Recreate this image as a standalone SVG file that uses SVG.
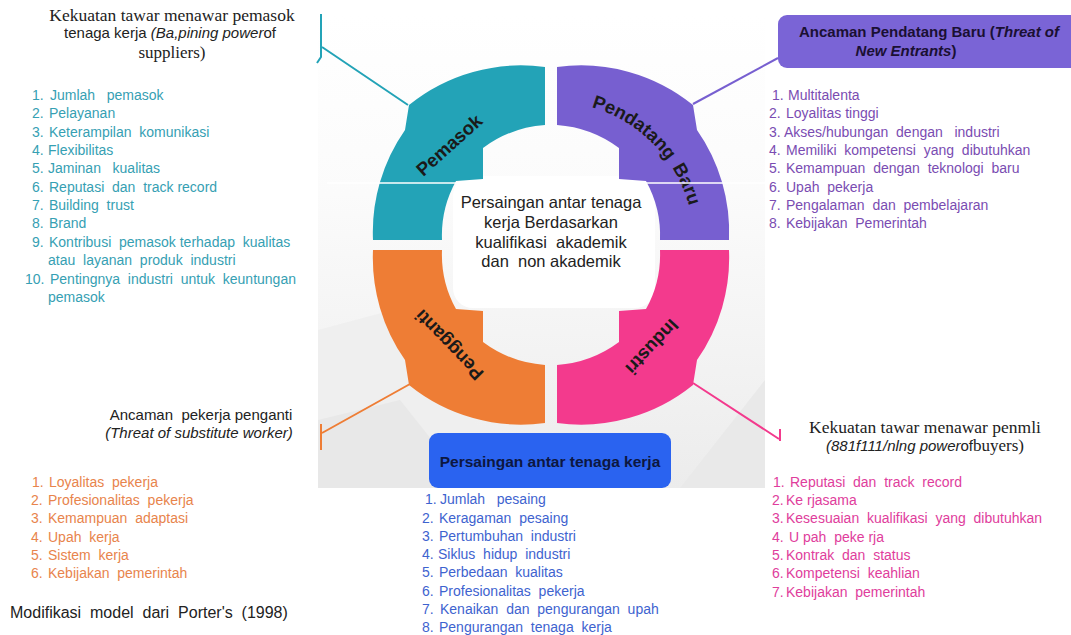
<svg xmlns="http://www.w3.org/2000/svg" xmlns:xlink="http://www.w3.org/1999/xlink" width="1071" height="635" viewBox="0 0 1071 635">
<style>
text,tspan,textPath{white-space:pre;}
.sans{font-family:"Liberation Sans",Arial,sans-serif;}
.serif{font-family:"Liberation Serif","Times New Roman",serif;}
.li{font-family:"Liberation Sans",Arial,sans-serif;font-size:14px;}
.teal{fill:#36a0b3;}
.purp{fill:#7a4cb2;}
.oran{fill:#e8844c;}
.blue{fill:#3e63cf;}
.pink{fill:#e03d9c;}
.seglbl{font-family:"Liberation Sans",Arial,sans-serif;font-size:18.5px;font-weight:bold;fill:#1a1a1a;}
.dark{fill:#222;}
.conn{fill:none;stroke-width:2;}
</style>
<defs>
<linearGradient id="bg" x1="0" y1="0" x2="0" y2="1">
<stop offset="0" stop-color="#ffffff"/>
<stop offset="0.38" stop-color="#fbfbfb"/>
<stop offset="1" stop-color="#ececec"/>
</linearGradient>
<path id="seg" d="M545,67 A178,178 0 0 0 409,105 L405,130 A178,178 0 0 0 373,240 L442,240 A112,112 0 0 1 456,181 L483,179 L483,148 A118,118 0 0 1 545,125 Z"/>
<path id="arcPB" d="M565,102 A143,143 0 0 1 694,234"/>
</defs>
<rect width="1071" height="635" fill="#fff"/>
<g id="backdrop">
<rect x="318" y="15" width="447" height="473" fill="url(#bg)"/>
<polygon points="318,330 430,300 500,488 318,488" fill="#efefef"/>
<polygon points="680,488 765,380 765,488" fill="#e9e9e9"/>
<polygon points="318,420 400,400 470,488 318,488" fill="#e8e8e8"/>
<rect x="453" y="176" width="202" height="132" rx="20" fill="#fff"/>
</g>
<g id="connectors">
<path class="conn" stroke="#23a3b7" d="M408,105 L322,47 M321,14 L321,57 L317,63"/>
<path class="conn" stroke="#775fd0" d="M693,104 L778,58"/>
<path class="conn" stroke="#ee7d35" d="M410,384 L322,433 M321,424 L321,450"/>
<path class="conn" stroke="#f33a8d" d="M693,383 L779,439 M780,429 L780,441"/>
</g>
<g id="node-pemasok">
<use xlink:href="#seg" fill="#23a3b7"/>
<text class="seglbl" transform="translate(449,145) rotate(-42)" text-anchor="middle" dominant-baseline="central">Pemasok</text>
</g>
<g id="node-pendatang-baru">
<use xlink:href="#seg" fill="#775fd0" transform="matrix(-1 0 0 1 1102 0)"/>
<text class="seglbl" font-size="19"><textPath xlink:href="#arcPB" startOffset="27">Pendatang</textPath></text>
<text class="seglbl" font-size="19"><textPath xlink:href="#arcPB" startOffset="130">Baru</textPath></text>
</g>
<g id="node-pengganti">
<use xlink:href="#seg" fill="#ee7d35" transform="matrix(1 0 0 -1 0 490)"/>
<text class="seglbl" transform="translate(449,345) rotate(-134)" text-anchor="middle" dominant-baseline="central">Pengganti</text>
</g>
<g id="node-industri">
<use xlink:href="#seg" fill="#f33a8d" transform="matrix(-1 0 0 -1 1102 490)"/>
<text class="seglbl" transform="translate(652,347) rotate(133)" text-anchor="middle" dominant-baseline="central">Industri</text>
</g>
<line x1="327" y1="183" x2="765" y2="183" stroke="#fff" stroke-width="1.5"/>
<g id="node-center" class="sans dark" font-size="16.5" text-anchor="middle">
<text x="551" y="208">Persaingan antar tenaga</text>
<text x="551" y="228">kerja Berdasarkan</text>
<text x="551" y="248">kualifikasi  akademik</text>
<text x="551" y="267">dan  non akademik</text>
</g>
<g id="node-threat-new-entrants">
<rect x="778" y="15" width="310" height="53" rx="9" fill="#7a64d6"/>
<text class="sans" x="929" y="37" font-size="15" font-weight="bold" fill="#1a1033" text-anchor="middle">Ancaman Pendatang Baru (<tspan font-style="italic">Threat of</tspan></text>
<text class="sans" x="906" y="56" font-size="15" font-weight="bold" fill="#1a1033" text-anchor="middle"><tspan font-style="italic">New Entrants</tspan>)</text>
</g>
<g id="node-rivalry">
<rect x="429" y="433" width="242" height="55" rx="9" fill="#2a63f0"/>
<text class="sans" x="550" y="467" font-size="15.5" font-weight="bold" fill="#0d1740" text-anchor="middle">Persaingan antar tenaga kerja</text>
</g>
<g id="node-suppliers-title" class="dark" text-anchor="middle">
<text class="serif" x="172" y="21" font-size="17.5">Kekuatan tawar menawar pemasok</text>
<text class="sans" x="170" y="38" font-size="15">tenaga kerja <tspan font-style="italic">(Ba,pining power</tspan>of</text>
<text class="serif" x="172" y="58" font-size="17">suppliers)</text>
</g>
<g id="node-suppliers-list" class="li teal">
<text x="32" y="100">1.</text><text x="50" y="100">Jumlah   pemasok</text>
<text x="32" y="118">2.</text><text x="49" y="118">Pelayanan</text>
<text x="32" y="137">3.</text><text x="49" y="137">Keterampilan  komunikasi</text>
<text x="32" y="155">4.</text><text x="48" y="155">Flexibilitas</text>
<text x="32" y="173">5.</text><text x="48" y="173">Jaminan   kualitas</text>
<text x="32" y="192">6.</text><text x="49" y="192">Reputasi  dan  track record</text>
<text x="32" y="210">7.</text><text x="49" y="210">Building  trust</text>
<text x="32" y="228">8.</text><text x="49" y="228">Brand</text>
<text x="32" y="247">9.</text><text x="49" y="247">Kontribusi  pemasok terhadap  kualitas</text>
<text x="48" y="265">atau  layanan  produk  industri</text>
<text x="25" y="284">10.</text><text x="50" y="284">Pentingnya  industri  untuk  keuntungan</text>
<text x="48" y="302">pemasok</text>
</g>
<g id="node-entrants-list" class="li purp">
<text x="772" y="100">1.</text><text x="788" y="100">Multitalenta</text>
<text x="769" y="118">2.</text><text x="786" y="118">Loyalitas tinggi</text>
<text x="769" y="137">3.</text><text x="784" y="137">Akses/hubungan  dengan   industri</text>
<text x="769" y="155">4.</text><text x="786" y="155">Memiliki  kompetensi  yang  dibutuhkan</text>
<text x="769" y="173">5.</text><text x="786" y="173">Kemampuan  dengan  teknologi  baru</text>
<text x="769" y="192">6.</text><text x="786" y="192">Upah  pekerja</text>
<text x="769" y="210">7.</text><text x="786" y="210">Pengalaman  dan  pembelajaran</text>
<text x="769" y="228">8.</text><text x="786" y="228">Kebijakan  Pemerintah</text>
</g>
<g id="node-substitute-title" class="sans dark" text-anchor="middle" font-size="15">
<text x="201" y="420">Ancaman  pekerja penganti</text>
<text x="199" y="438" font-style="italic">(Threat of substitute worker)</text>
</g>
<g id="node-substitute-list" class="li oran">
<text x="32" y="487">1.</text><text x="49" y="487">Loyalitas  pekerja</text>
<text x="31" y="505">2.</text><text x="48" y="505">Profesionalitas  pekerja</text>
<text x="31" y="523">3.</text><text x="48" y="523">Kemampuan  adaptasi</text>
<text x="31" y="542">4.</text><text x="48" y="542">Upah  kerja</text>
<text x="31" y="560">5.</text><text x="48" y="560">Sistem  kerja</text>
<text x="31" y="578">6.</text><text x="48" y="578">Kebijakan  pemerintah</text>
</g>
<text id="note-source" class="sans dark" x="10" y="618" font-size="16">Modifikasi  model  dari  Porter's  (1998)</text>
<g id="node-rivalry-list" class="li blue">
<text x="425" y="504">1.</text><text x="440" y="504">Jumlah   pesaing</text>
<text x="422" y="523">2.</text><text x="439" y="523">Keragaman  pesaing</text>
<text x="422" y="541">3.</text><text x="439" y="541">Pertumbuhan  industri</text>
<text x="422" y="559">4.</text><text x="438" y="559">Siklus  hidup  industri</text>
<text x="422" y="577">5.</text><text x="439" y="577">Perbedaan  kualitas</text>
<text x="422" y="596">6.</text><text x="439" y="596">Profesionalitas  pekerja</text>
<text x="422" y="614">7.</text><text x="440" y="614">Kenaikan  dan  pengurangan  upah</text>
<text x="422" y="632">8.</text><text x="439" y="632">Pengurangan  tenaga  kerja</text>
</g>
<g id="node-buyers-title" class="dark" text-anchor="middle">
<text class="serif" x="925" y="433" font-size="17.5">Kekuatan tawar menawar penmli</text>
<text class="sans" x="925" y="451" font-size="15"><tspan font-style="italic">(881f111/nlng power</tspan>of<tspan class="serif" font-size="17">buyers)</tspan></text>
</g>
<g id="node-buyers-list" class="li pink">
<text x="773" y="487">1.</text><text x="790" y="487">Reputasi  dan  track  record</text>
<text x="772" y="505">2.</text><text x="786" y="505">Ke rjasama</text>
<text x="772" y="523">3.</text><text x="786" y="523">Kesesuaian  kualifikasi  yang  dibutuhkan</text>
<text x="772" y="542">4.</text><text x="789" y="542">U pah  peke rja</text>
<text x="772" y="560">5.</text><text x="786" y="560">Kontrak  dan  status</text>
<text x="772" y="578">6.</text><text x="786" y="578">Kompetensi  keahlian</text>
<text x="772" y="597">7.</text><text x="786" y="597">Kebijakan  pemerintah</text>
</g>
</svg>
